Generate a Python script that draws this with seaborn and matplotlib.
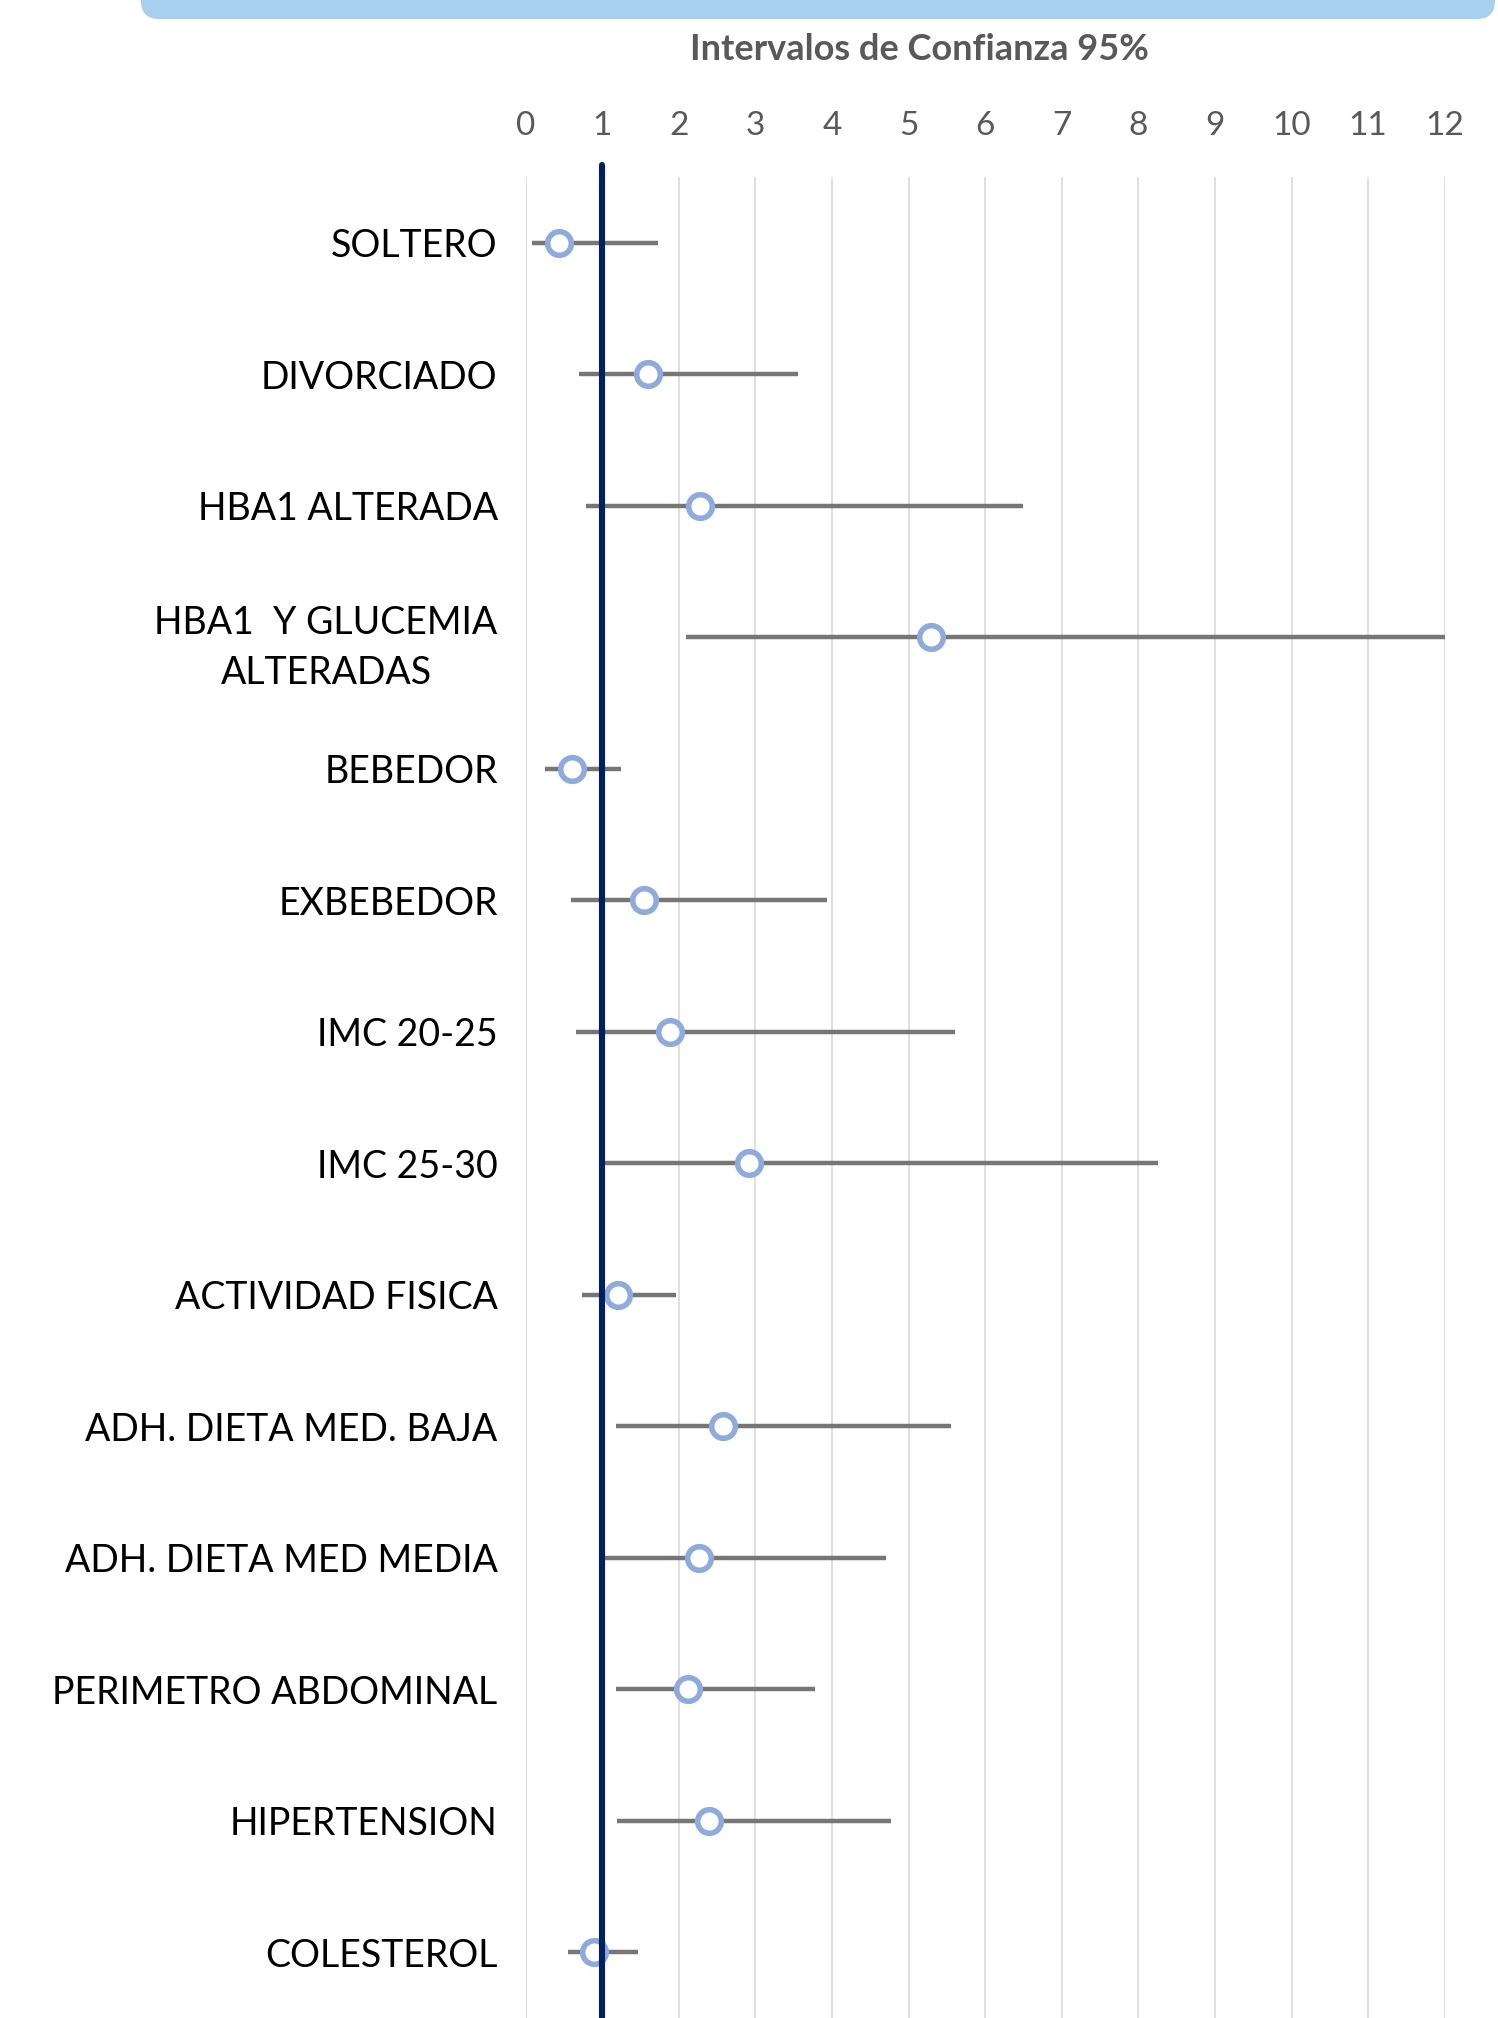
import numpy as np
import pandas as pd
import matplotlib
matplotlib.use("Agg")
import matplotlib.pyplot as plt
import seaborn as sns
from matplotlib.patches import FancyBboxPatch

# Odds ratios and 95% CI
categorias = ["SOLTERO", "DIVORCIADO", "HBA1 ALTERADA", "HBA1  Y GLUCEMIA\nALTERADAS",
              "BEBEDOR", "EXBEBEDOR", "IMC 20-25", "IMC 25-30", "ACTIVIDAD FISICA",
              "ADH. DIETA MED. BAJA", "ADH. DIETA MED MEDIA", "PERIMETRO ABDOMINAL",
              "HIPERTENSION", "COLESTEROL"]
odds_ratio = [0.44, 1.60, 2.28, 5.30, 0.61, 1.55, 1.89, 2.92, 1.21, 2.58, 2.26, 2.12, 2.40, 0.90]
ic_inferior = [0.09, 0.70, 0.79, 2.10, 0.25, 0.59, 0.66, 1.03, 0.74, 1.18, 1.03, 1.18, 1.19, 0.55]
ic_superior = [1.73, 3.56, 6.49, 12.0, 1.25, 3.94, 5.61, 8.26, 1.97, 5.56, 4.70, 3.78, 4.77, 1.47]
ticks_x = list(range(0, 13))

df = pd.DataFrame({"cat": categorias, "or": odds_ratio,
                   "lo": ic_inferior, "hi": ic_superior})
df["pos"] = np.arange(len(df))

sns.set_style("white")
plt.rcParams['font.family'] = ['Lato', 'DejaVu Sans']

W, H = 1498, 2018
fig = plt.figure(figsize=(W / 100, H / 100), dpi=100)
ax = fig.add_axes([525.5 / W, 0, (1444.7 - 525.5) / W, 1 - 177 / H])

# background overlay for the banner at the top
bg = fig.add_axes([0, 0, 1, 1], zorder=-1)
bg.set_xlim(0, W)
bg.set_ylim(H, 0)
bg.axis("off")
bg.add_patch(FancyBboxPatch((141, -60), 1354, 79, boxstyle="round,pad=0,rounding_size=18",
                            facecolor="#A9CFEE", edgecolor="none"))

# interval lines
ax.hlines(df["pos"], df["lo"], df["hi"], color="#767676", lw=3.2, zorder=2)
# point estimates
sns.scatterplot(data=df, x="or", y="pos", ax=ax, s=17 ** 2, marker="o",
                facecolor="white", edgecolor="#8FAADC", linewidth=4.0, zorder=3, legend=False)
# reference line at OR = 1
ax.axvline(1, ymin=0, ymax=1 + 12 / 1841, color="#00205F", lw=4.4, zorder=4, clip_on=False)

ax.set_xlim(0, 12)
ax.set_ylim(len(df) - 0.5, -0.5)
ax.set_xticks(ticks_x)
ax.xaxis.tick_top()
ax.tick_params(axis="x", length=0, pad=26, labelsize=24, labelcolor="#595959")
ax.set_yticks(df["pos"], df["cat"])
ax.tick_params(axis="y", length=0, pad=20, labelsize=27, labelcolor="black")
for lab in ax.get_yticklabels():
    lab.set_multialignment("center")
    lab.set_linespacing(1.5)
ax.grid(axis="x", color="#D9D9D9", lw=1.2)
ax.grid(axis="y", visible=False)
ax.set_xlabel("")
ax.set_ylabel("")
for s in ax.spines.values():
    s.set_visible(False)

fig.text(919 / W, 1 - 50 / H, "Intervalos de Confianza 95%", ha="center", va="center",
         fontsize=26, fontweight="bold", color="#595959")

fig.savefig("out.png", dpi=100)
